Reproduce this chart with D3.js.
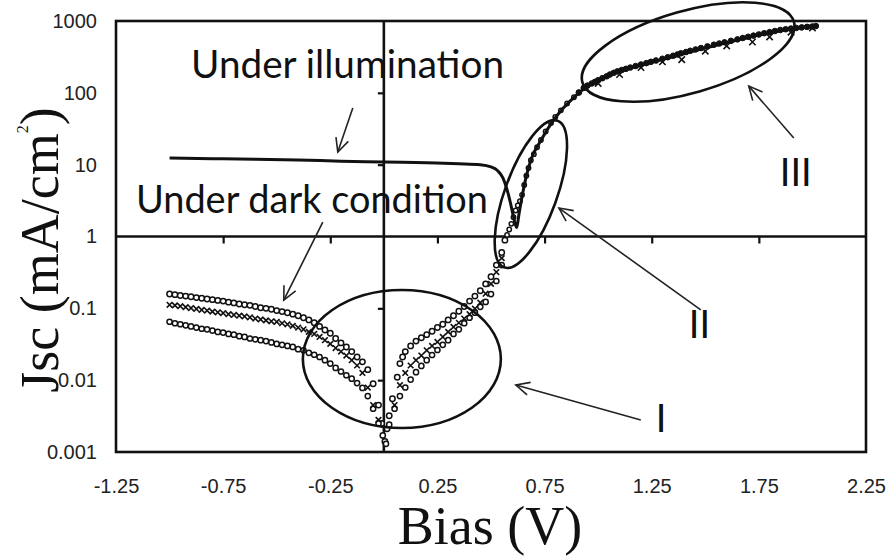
<!DOCTYPE html>
<html><head><meta charset="utf-8">
<script src="https://cdn.jsdelivr.net/npm/d3@7"></script>
<style>body{margin:0;background:#fff}svg{display:block}</style>
</head><body>
<svg id="c" width="893" height="556"></svg>
<script>
// ---------- data ----------
const xTicks = [-1.25, -0.75, -0.25, 0.25, 0.75, 1.25, 1.75, 2.25];
const xTickLabels = ["-1.25", "-0.75", "-0.25", "0.25", "0.75", "1.25", "1.75", "2.25"];
const yTicks = [1000, 100, 10, 1, 0.1, 0.01, 0.001];
const yTickLabels = ["1000", "100", "10", "1", "0.1", "0.01", "0.001"];
const innerXTicks = [-0.75, -0.25, 0.25, 0.75, 1.25, 1.75];
const innerYTicks = [100, 10, 0.1, 0.01];

// dark condition, upper curve (open circles)
const darkTop = [[-1.000,0.158],[-0.975,0.155],[-0.950,0.151],[-0.925,0.148],[-0.900,0.145],[-0.875,0.141],[-0.850,0.138],[-0.825,0.135],[-0.800,0.132],[-0.775,0.129],[-0.750,0.126],[-0.725,0.122],[-0.700,0.119],[-0.675,0.115],[-0.650,0.112],[-0.625,0.110],[-0.600,0.106],[-0.575,0.102],[-0.550,0.100],[-0.525,0.097],[-0.500,0.093],[-0.475,0.090],[-0.450,0.087],[-0.425,0.083],[-0.400,0.079],[-0.375,0.074],[-0.350,0.069],[-0.325,0.063],[-0.300,0.056],[-0.275,0.050],[-0.250,0.045],[-0.225,0.038],[-0.200,0.033],[-0.175,0.029],[-0.150,0.025],[-0.125,0.021],[-0.100,0.018],[-0.075,0.014],[-0.050,0.0089],[-0.025,0.0045],[-0.010,0.0025],
  [0.005,0.0014],[0.015,0.0021],[0.025,0.0032],[0.040,0.0055],[0.0625,0.011],[0.075,0.017],[0.0875,0.021],[0.100,0.025],[0.125,0.030],[0.150,0.035],[0.175,0.039],[0.200,0.043],[0.225,0.048],[0.250,0.054],[0.275,0.060],[0.300,0.069],[0.325,0.079],[0.350,0.091],[0.375,0.106],[0.400,0.126],[0.425,0.148],[0.450,0.176],[0.475,0.219],[0.500,0.275],[0.525,0.40],[0.550,0.60],[0.565,0.89]];

// dark condition, middle curve (x markers)
const darkMid = [[-1.00,0.112],[-0.975,0.110],[-0.95,0.107],[-0.925,0.104],[-0.90,0.101],[-0.875,0.098],[-0.85,0.095],[-0.825,0.093],[-0.80,0.090],[-0.775,0.088],[-0.75,0.086],[-0.725,0.083],[-0.70,0.081],[-0.675,0.079],[-0.65,0.077],[-0.625,0.075],[-0.60,0.072],[-0.575,0.070],[-0.55,0.068],[-0.525,0.066],[-0.50,0.065],[-0.475,0.062],[-0.45,0.060],[-0.425,0.057],[-0.40,0.054],[-0.375,0.051],[-0.35,0.047],[-0.325,0.044],[-0.30,0.040],[-0.275,0.036],[-0.25,0.032],[-0.225,0.028],[-0.20,0.025],[-0.175,0.022],[-0.15,0.019],[-0.125,0.016],[-0.10,0.0126],[-0.075,0.0079],[-0.05,0.0045],[-0.025,0.0028],
  [0.05,0.0045],[0.075,0.0085],[0.10,0.0126],[0.125,0.016],[0.15,0.019],[0.175,0.022],[0.20,0.026],[0.225,0.030],[0.25,0.034],[0.275,0.040],[0.30,0.047],[0.325,0.055],[0.35,0.063],[0.375,0.072],[0.40,0.083],[0.425,0.099],[0.45,0.120],[0.475,0.160],[0.50,0.219],[0.525,0.32],[0.55,0.50]];

// dark condition, lower curve (open circles)
const darkBot = [[-1.000,0.065],[-0.975,0.062],[-0.950,0.060],[-0.925,0.058],[-0.900,0.056],[-0.875,0.054],[-0.850,0.052],[-0.825,0.051],[-0.800,0.049],[-0.775,0.047],[-0.750,0.046],[-0.725,0.044],[-0.700,0.043],[-0.675,0.041],[-0.650,0.040],[-0.625,0.038],[-0.600,0.037],[-0.575,0.036],[-0.550,0.035],[-0.525,0.0335],[-0.500,0.032],[-0.475,0.031],[-0.450,0.030],[-0.425,0.029],[-0.400,0.027],[-0.375,0.026],[-0.350,0.024],[-0.325,0.0226],[-0.300,0.021],[-0.275,0.019],[-0.250,0.017],[-0.225,0.0148],[-0.200,0.0132],[-0.175,0.0117],[-0.150,0.0105],[-0.125,0.0091],[-0.100,0.0078],[-0.075,0.0060],[-0.050,0.0040],[-0.025,0.0025],[-0.005,0.0017],
  [0.010,0.0013],[0.025,0.0024],[0.050,0.0040],[0.075,0.0060],[0.100,0.0079],[0.125,0.0102],[0.150,0.0129],[0.175,0.0158],[0.200,0.019],[0.225,0.0224],[0.250,0.0263],[0.275,0.031],[0.300,0.036],[0.325,0.044],[0.350,0.051],[0.375,0.062],[0.400,0.074],[0.425,0.087],[0.450,0.105],[0.475,0.123],[0.500,0.158],[0.525,0.240],[0.550,0.40]];

// dark condition, high forward current (regions II and III)
const darkHigh = [[0.575,1.05],[0.585,1.25],[0.595,1.5],[0.605,1.85],[0.615,2.3],[0.625,2.7],[0.635,3.1],[0.645,3.8],[0.655,5.2],[0.665,7.0],[0.675,9.0],[0.686,11.5],[0.700,14],[0.715,17.5],[0.733,22],[0.755,29],[0.780,38],[0.800,46],[0.826,57],[0.855,71],[0.887,87],[0.910,101],[0.933,117],[0.950,126],[0.970,135],[0.985,142],[1.000,150],[1.020,160],[1.040,170],[1.055,180],[1.073,190],[1.090,199],[1.110,208],[1.130,216],[1.150,225],[1.175,236],[1.200,248],[1.225,259],[1.246,270],[1.270,282],[1.300,298],[1.325,313],[1.350,328],[1.370,342],[1.386,355],[1.410,370],[1.430,385],[1.455,402],[1.480,420],[1.510,443],[1.540,468],[1.565,486],[1.590,505],[1.620,530],[1.650,555],[1.675,580],[1.700,603],[1.725,626],[1.750,650],[1.775,676],[1.800,700],[1.825,725],[1.850,750],[1.875,768],[1.900,785],[1.925,800],[1.950,815],[1.975,828],[2.000,840],[2.016,850]];
const darkHighX = [[1.00,135],[1.10,180],[1.20,225],[1.30,270],[1.39,290],[1.50,380],[1.60,450],[1.72,510],[1.80,600],[1.90,700],[2.00,800]];

// under illumination (solid line)
const light = [[-1.00,12.4],[-0.80,12.1],[-0.60,11.9],[-0.40,11.6],[-0.20,11.2],[0.00,10.9],[0.20,10.6],[0.35,10.3],[0.45,10.0],[0.50,9.3],[0.53,8.3],[0.555,6.6],[0.575,4.5],[0.59,3.0],[0.603,2.0],[0.613,1.5],[0.62,1.33],[0.63,2.0],[0.645,3.6],[0.665,7.0],[0.69,12.5],[0.73,21],[0.78,37],[0.83,58],[0.89,88],[0.94,118],[1.07,185],[1.25,265],[1.40,350],[1.55,460],[1.70,590],[1.85,730],[2.00,840]];

// annotations (data coordinates)
const ellipses = [
  {cx: 0.084, cy: 0.0197, rx: 99, ry: 69, rot: 0},
  {cx: 0.686, cy: 3.9, rx: 78, ry: 26, rot: -70},
  {cx: 1.42, cy: 370, rx: 110, ry: 41, rot: -16}
];
const arrows = [
  {from: [-0.145, 61.5], to: [-0.215, 15.0]},
  {from: [-0.285, 1.59], to: [-0.467, 0.13]},
  {from: [1.479, 0.095], to: [0.817, 2.49]},
  {from: [1.199, 0.00279], to: [0.616, 0.00855]},
  {from: [1.913, 23.5], to: [1.703, 124]}
];
const labels = [
  {t: "Under illumination", v: -0.90, j: 160, w: 313},
  {t: "Under dark condition", v: -1.157, j: 2.12, w: 352},
  {t: "III", v: 1.848, j: 5.0, w: 0},
  {t: "II", v: 1.423, j: 0.0386, w: 0},
  {t: "I", v: 1.269, j: 0.0019, w: 0}
];

// ---------- drawing ----------
const svg = d3.select("#c");
const x = d3.scaleLinear().domain([-1.25, 2.25]).range([116, 866]);
const y = d3.scaleLog().domain([0.001, 1000]).range([452, 21]);
const ink = "#111";

// tick labels
const gy = svg.append("g").attr("transform", `translate(${x(-1.25)},0)`)
  .call(d3.axisLeft(y).tickValues(yTicks).tickFormat((d, i) => yTickLabels[i]).tickSize(0).tickPadding(19));
gy.select(".domain").remove();
gy.attr("font-family", "'Liberation Sans', Arial, sans-serif").attr("font-size", 20);
gy.selectAll("text").attr("fill", "#222");

const gx = svg.append("g").attr("transform", `translate(0,${y(0.001)})`)
  .call(d3.axisBottom(x).tickValues(xTicks).tickFormat((d, i) => xTickLabels[i]).tickSize(0).tickPadding(27));
gx.select(".domain").remove();
gx.attr("font-family", "'Liberation Sans', Arial, sans-serif").attr("font-size", 20);
gx.selectAll("text").attr("fill", "#222");

// frame
svg.append("rect")
  .attr("x", x(-1.25)).attr("y", y(1000))
  .attr("width", x(2.25) - x(-1.25)).attr("height", y(0.001) - y(1000))
  .attr("fill", "none").attr("stroke", ink).attr("stroke-width", 2.6);

// inner cross axes
svg.append("line").attr("x1", x(-1.25)).attr("x2", x(2.25)).attr("y1", y(1)).attr("y2", y(1))
  .attr("stroke", ink).attr("stroke-width", 2.6);
svg.append("line").attr("x1", x(0)).attr("x2", x(0)).attr("y1", y(1000)).attr("y2", y(0.001))
  .attr("stroke", ink).attr("stroke-width", 2.6);

const ix = svg.append("g").attr("transform", `translate(0,${y(1)})`)
  .call(d3.axisBottom(x).tickValues(innerXTicks).tickSize(7).tickFormat(""));
ix.select(".domain").remove();
ix.selectAll("line").attr("stroke", ink).attr("stroke-width", 2.2);
const iy = svg.append("g").attr("transform", `translate(${x(0)},0)`)
  .call(d3.axisLeft(y).tickValues(innerYTicks).tickSize(6).tickFormat(""));
iy.select(".domain").remove();
iy.selectAll("line").attr("stroke", ink).attr("stroke-width", 2.2);

// series
const line = d3.line().x(d => x(d[0])).y(d => y(d[1])).curve(d3.curveMonotoneX);

function circles(data, r, fill, sw) {
  svg.append("g").selectAll("circle").data(data).join("circle")
    .attr("cx", d => x(d[0])).attr("cy", d => y(d[1])).attr("r", r)
    .attr("fill", fill).attr("stroke", ink).attr("stroke-width", sw);
}
function crosses(data, s, sw) {
  svg.append("g").selectAll("path").data(data).join("path")
    .attr("d", `M${-s},${-s}L${s},${s}M${-s},${s}L${s},${-s}`)
    .attr("transform", d => `translate(${x(d[0])},${y(d[1])})`)
    .attr("stroke", ink).attr("stroke-width", sw).attr("fill", "none");
}

circles(darkTop, 2.7, "#fff", 1.5);
circles(darkBot, 2.6, "#fff", 1.5);
crosses(darkMid, 2.8, 1.6);
circles(darkHigh.filter(d => d[0] <= 0.95), 2.2, "#fff", 1.5);

svg.append("path").datum(light).attr("d", line)
  .attr("fill", "none").attr("stroke", ink).attr("stroke-width", 3);
circles(darkHigh.filter(d => d[0] > 0.9), 2.8, ink, 1);
crosses(darkHighX, 3.2, 1.6);

// ellipses
svg.append("g").selectAll("ellipse").data(ellipses).join("ellipse")
  .attr("cx", d => x(d.cx)).attr("cy", d => y(d.cy))
  .attr("rx", d => d.rx).attr("ry", d => d.ry)
  .attr("transform", d => `rotate(${d.rot},${x(d.cx)},${y(d.cy)})`)
  .attr("fill", "none").attr("stroke", ink).attr("stroke-width", 2.6);

// arrows
arrows.forEach(a => {
  const x1 = x(a.from[0]), y1 = y(a.from[1]), x2 = x(a.to[0]), y2 = y(a.to[1]);
  const ang = Math.atan2(y1 - y2, x1 - x2), L = 15, sp = 0.45;
  const g = svg.append("g").attr("stroke", "#222").attr("stroke-width", 1.6).attr("fill", "none");
  g.append("line").attr("x1", x1).attr("y1", y1).attr("x2", x2).attr("y2", y2);
  g.append("path").attr("d",
    `M${x2 + L * Math.cos(ang + sp)},${y2 + L * Math.sin(ang + sp)}L${x2},${y2}L${x2 + L * Math.cos(ang - sp)},${y2 + L * Math.sin(ang - sp)}`);
});

// annotation text
labels.forEach(l => {
  const t = svg.append("text").attr("x", x(l.v)).attr("y", y(l.j))
    .attr("font-family", "Lato, 'Open Sans', sans-serif").attr("font-size", 38)
    .attr("fill", ink).text(l.t);
  if (l.w) t.attr("textLength", l.w).attr("lengthAdjust", "spacingAndGlyphs");
});

// axis titles
svg.append("text").attr("x", 490).attr("y", 544).attr("text-anchor", "middle")
  .attr("font-family", "'Liberation Serif', 'Times New Roman', serif").attr("font-size", 54)
  .attr("fill", ink).text("Bias (V)");

const yt = svg.append("text").attr("transform", "translate(58,250) rotate(-90)")
  .attr("text-anchor", "middle")
  .attr("font-family", "'Liberation Serif', 'Times New Roman', serif").attr("font-size", 54)
  .attr("fill", ink);
yt.append("tspan").text("Jsc (mA/cm");
yt.append("tspan").attr("font-size", 16).attr("dy", -30).text("2");
yt.append("tspan").attr("dy", 30).text(")");
</script>
</body></html>
